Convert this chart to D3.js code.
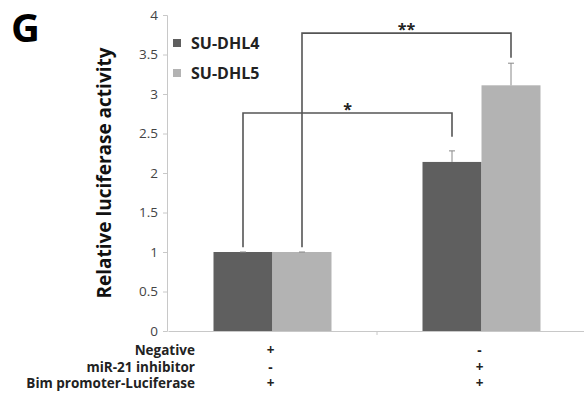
<!DOCTYPE html>
<html><head><meta charset="utf-8">
<script src="https://cdn.jsdelivr.net/npm/d3@7"></script>
<style>body{margin:0;background:#fff}svg{display:block}text{font-family:"Open Sans",sans-serif}</style>
</head><body><svg id="c" width="584" height="394"></svg>
<script>
const categories = ["neg", "inh"];
const series = ["SU-DHL4", "SU-DHL5"];
const values = { "SU-DHL4": [1.0, 2.14], "SU-DHL5": [1.0, 3.11] };
const errors = { "SU-DHL4": [0.0, 0.14], "SU-DHL5": [0.0, 0.28] };
const yTicks = [0, 0.5, 1, 1.5, 2, 2.5, 3, 3.5, 4];
const rowLabels = ["Negative", "miR-21 inhibitor", "Bim promoter-Luciferase"];
const rowSigns = [["+", "-"], ["-", "+"], ["+", "+"]];
const brackets = [
  { from: [0, "SU-DHL4"], to: [1, "SU-DHL4"], y: 2.76, leftEnd: 1.06, rightEnd: 2.46, label: "*" },
  { from: [0, "SU-DHL5"], to: [1, "SU-DHL5"], y: 3.77, leftEnd: 1.06, rightEnd: 3.46, label: "**" }
];
const colors = { "SU-DHL4": "#5f5f5f", "SU-DHL5": "#b3b3b3" };

const svg = d3.select("#c");
const x0 = d3.scaleBand().domain(categories).range([168, 586]).paddingInner(0).paddingOuter(0);
const x1 = d3.scaleBand().domain(series).range([0, 118]);
const y = d3.scaleLinear().domain([0, 4]).range([331, 15]);
const bandOff = (x0.bandwidth() - 118) / 2;
const barX = (ci, s) => x0(categories[ci]) + bandOff + x1(s);
const barC = (ci, s) => barX(ci, s) + x1.bandwidth() / 2;

// Y axis
const yAx = svg.append("g").attr("transform", "translate(167,0)")
  .call(d3.axisLeft(y).tickValues(yTicks).tickSize(4).tickPadding(5).tickFormat(d => String(d)));
yAx.select(".domain").attr("stroke", "#c8c8c8");
yAx.selectAll(".tick line").attr("stroke", "#c8c8c8");
yAx.selectAll(".tick text").attr("font-size", 13.5).attr("fill", "#444").attr("font-family", "'Open Sans',sans-serif");

// X axis
const xAx = svg.append("g").attr("transform", "translate(0,331)")
  .call(d3.axisBottom(x0).tickValues([]).tickSizeOuter(0));
xAx.select(".domain").attr("stroke", "#c8c8c8");
svg.append("line").attr("x1", x0("inh")).attr("x2", x0("inh")).attr("y1", 331).attr("y2", 335).attr("stroke", "#c8c8c8");

// Bars
series.forEach(s => {
  svg.append("g").selectAll("rect").data(values[s]).join("rect")
    .attr("x", (d, i) => barX(i, s)).attr("width", x1.bandwidth())
    .attr("y", d => y(d)).attr("height", d => y(0) - y(d))
    .attr("fill", colors[s]);
  const eg = svg.append("g").attr("stroke", "#888").attr("stroke-width", 1);
  values[s].forEach((v, i) => {
    const cx = barC(i, s), e = errors[s][i];
    eg.append("line").attr("x1", cx).attr("x2", cx).attr("y1", y(v)).attr("y2", y(v + e));
    eg.append("line").attr("x1", cx - 3).attr("x2", cx + 3).attr("y1", y(v + e)).attr("y2", y(v + e));
  });
});

// Brackets
brackets.forEach(b => {
  const xa = barC(b.from[0], b.from[1]), xb = barC(b.to[0], b.to[1]);
  svg.append("path")
    .attr("d", `M${xa},${y(b.leftEnd)}V${y(b.y)}H${xb}V${y(b.rightEnd)}`)
    .attr("fill", "none").attr("stroke", "#555").attr("stroke-width", 1.6);
  svg.append("text").attr("x", (xa + xb) / 2).attr("y", y(b.y) + 2)
    .attr("text-anchor", "middle").attr("font-size", 16).attr("font-weight", "bold").attr("fill", "#222")
    .text(b.label);
});

// Legend
series.forEach((s, i) => {
  const ly = 43 + i * 30;
  svg.append("rect").attr("x", 173).attr("y", ly - 4).attr("width", 8).attr("height", 8).attr("fill", colors[s]);
  svg.append("text").attr("x", 191).attr("y", ly + 5.5).attr("font-size", 16).attr("font-weight", "bold")
    .attr("fill", "#222").text(s);
});

// Y label
svg.append("text").attr("transform", "translate(111,173) rotate(-90)")
  .attr("text-anchor", "middle").attr("font-size", 19).attr("font-weight", "bold").attr("fill", "#111")
  .text("Relative luciferase activity");

// Panel letter
svg.append("text").attr("x", 11).attr("y", 42).attr("font-size", 40).attr("font-weight", "bold").attr("fill", "#000").text("G");

// Row table
rowLabels.forEach((r, i) => {
  const ry = 355 + i * 16.5;
  svg.append("text").attr("x", 195).attr("y", ry).attr("text-anchor", "end")
    .attr("font-size", 13.5).attr("font-weight", "bold").attr("fill", "#222").text(r);
  rowSigns[i].forEach((sg, ci) => {
    svg.append("text").attr("x", x0(categories[ci]) + x0.bandwidth() / 2 - 2).attr("y", ry)
      .attr("text-anchor", "middle").attr("font-size", 13.5).attr("font-weight", "bold").attr("fill", "#222").text(sg);
  });
});
</script></body></html>
